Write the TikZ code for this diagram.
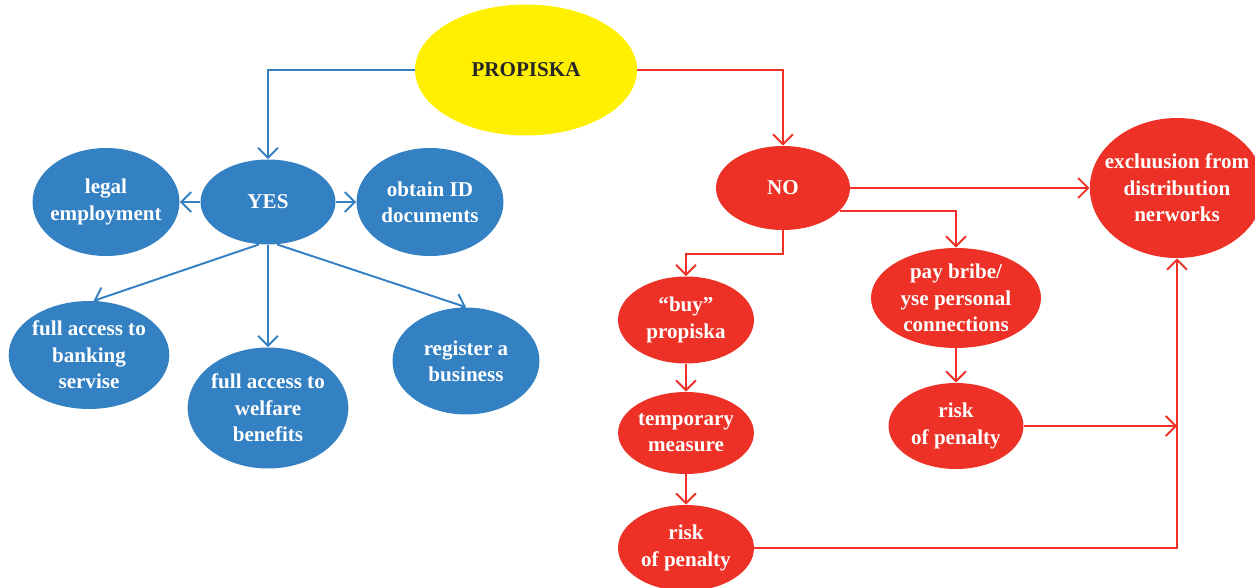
\documentclass[tikz,border=0pt]{standalone}
\usepackage{fontspec}
\setmainfont{Liberation Serif}
\usetikzlibrary{shapes.geometric,arrows.meta}
\definecolor{yesblue}{RGB}{51,128,194}
\definecolor{nored}{RGB}{237,49,38}
\definecolor{keyyellow}{RGB}{255,240,0}

\begin{document}
\begin{tikzpicture}[x=0.02cm, y=-0.02cm,
    bubble/.style={ellipse, inner sep=0pt, align=center, text=white,
      font=\bfseries\fontsize{12}{15}\selectfont},
    yesnode/.style={bubble, fill=yesblue},
    nonode/.style={bubble, fill=nored},
    yesarrow/.style={draw=yesblue, line width=1.1pt, -{Straight Barb[length=2mm,width=4mm]}},
    noarrow/.style={draw=nored, line width=1.1pt, -{Straight Barb[length=2mm,width=4mm]}}]
    \clip (0,0) rectangle (1255,588);

    % Propiska
    \node[bubble, fill=keyyellow, text=black!85, minimum width=4.44cm, minimum height=2.62cm] (propiska) at (526,70) {PROPISKA};

    % YES side
    \node[yesnode, minimum width=2.7cm, minimum height=1.7cm] (yes) at (268,202) {YES};
    \node[yesnode, inner xsep=-0.08cm, minimum width=2.94cm, minimum height=2.16cm] (legal) at (106,202) {legal\\employment};
    \node[yesnode, minimum width=2.94cm, minimum height=2.16cm] (obtain) at (430,202) {obtain ID\\documents};
    \node[yesnode, minimum width=3.16cm, minimum height=2.16cm] (banking) at (89,355) {full access to\\banking\\servise};
    \node[yesnode, minimum width=3.14cm, minimum height=2.42cm] (welfare) at (268,408) {full access to\\welfare\\benefits};
    \node[yesnode, minimum width=2.94cm, minimum height=2.14cm] (register) at (466,361) {register a\\business};

    \draw[yesarrow] (propiska.west) -| (yes.north);
    \draw[yesarrow] (yes) -- (legal);
    \draw[yesarrow] (yes) -- (obtain);
    \draw[yesarrow] (yes.258) -- (banking.85);
    \draw[yesarrow] (yes.south) -- (welfare.north);
    \draw[yesarrow] (yes.282) -- (register.north);

    % NO side
    \node[nonode, minimum width=2.68cm, minimum height=1.68cm] (no) at (783,188) {NO};
    \node[nonode, inner xsep=-0.21cm, minimum width=3.44cm, minimum height=2.8cm] (excl) at (1177,188) {excluusion from\\distribution\\nerworks};
    \node[nonode, minimum width=2.72cm, minimum height=1.74cm] (buy) at (686,320) {“buy”\\propiska};
    \node[nonode, minimum width=3.4cm, minimum height=2cm] (bribe) at (956,298) {pay bribe/\\yse personal\\connections};
    \node[nonode, minimum width=2.62cm, minimum height=1.64cm] (temp) at (686,433) {temporary\\measure};
    \node[nonode, minimum width=2.7cm, minimum height=1.72cm] (riskr) at (956,426) {risk\\of penalty};
    \node[nonode, minimum width=2.72cm, minimum height=1.72cm] (riskb) at (686,548) {risk\\of penalty};

    \draw[noarrow] (propiska.east) -| (no.north);
    \draw[noarrow] (no) -- (excl);
    \draw[noarrow] (no.-22) -| (bribe.north);
    \draw[noarrow] (no.south) -- ++(0,24) -| (buy.north);
    \draw[noarrow] (buy) -- (temp);
    \draw[noarrow] (temp) -- (riskb);
    \draw[noarrow] (bribe) -- (riskr);
    \draw[noarrow] (riskr.east) -- (riskr.east -| excl.south);
    \draw[noarrow] (riskb.east) -| (excl.south);
\end{tikzpicture}
\end{document}
